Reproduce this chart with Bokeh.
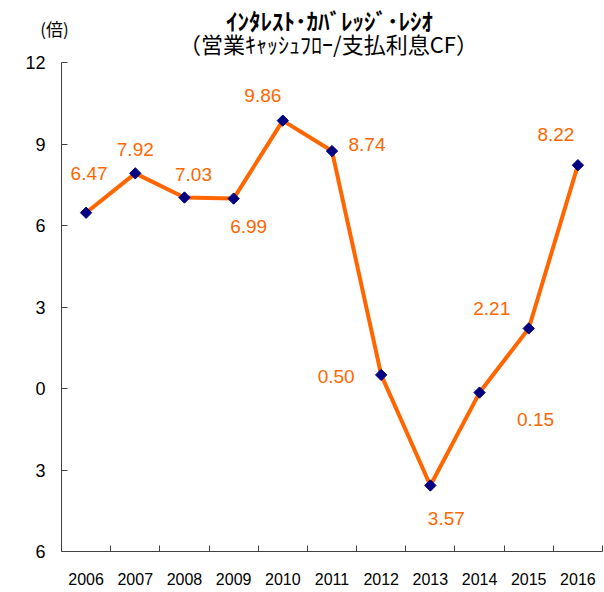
from math import pi
from bokeh.plotting import figure
from bokeh.models import Range1d, FixedTicker, ColumnDataSource
from bokeh.core.properties import value
from bokeh.embed import file_html
from bokeh.resources import INLINE

# ---- data ----
years = ["2006", "2007", "2008", "2009", "2010", "2011", "2012", "2013", "2014", "2015", "2016"]
ratio = [6.47, 7.92, 7.03, 6.99, 9.86, 8.74, 0.50, -3.57, -0.15, 2.21, 8.22]
y_ticks = [-6, -3, 0, 3, 6, 9, 12]
y_min, y_max = -6, 12
title_line1 = "ｲﾝﾀﾚｽﾄ･ｶﾊﾞﾚｯｼﾞ･ﾚｼｵ"
title_line2 = "（営業ｷｬｯｼｭﾌﾛｰ/支払利息CF）"
unit_label = "(倍)"

# ---- label placement (screen px) ----
label_dx = [3, 0, 9, 15, -20, 35, -45, 16, 56, -37, -22]
label_dy = [-39, -24, -23, 28, -25, -7, 2, 33, 27, -20, -31]

# ---- layout (canvas px) ----
W, H = 604, 592
AX_L, AX_R, AX_T, AX_B = 61, 602, 62, 551
n = len(years)
ux = (AX_R - AX_L) / n
uy = (AX_B - AX_T) / (y_max - y_min)
x0 = -0.5 - AX_L / ux
x1 = n - 0.5 + (W - AX_R) / ux
y1 = y_max + AX_T / uy
y0 = y_min - (H - AX_B) / uy
def px2x(px): return x0 + px / ux
def py2y(py): return y1 - py / uy

xs = list(range(n))
src = ColumnDataSource(dict(
    x=xs, y=ratio,
    txt=[f"{abs(v):.2f}" for v in ratio],
    dx=label_dx, dy=label_dy,
))

p = figure(width=W, height=H, output_backend="svg", toolbar_location=None,
           x_range=Range1d(x0, x1), y_range=Range1d(y0, y1),
           min_border_left=0, min_border_top=0, min_border_right=0, min_border_bottom=0)
p.outline_line_color = None
p.xgrid.visible = False
p.ygrid.visible = False
p.background_fill_color = "white"
p.border_fill_color = "white"

FONT = "Liberation Sans"
AX = "#404040"

# x axis: labels at centers, ticks at category boundaries
xa = p.xaxis[0]
xa.fixed_location = y_min
xa.bounds = (-0.5, n - 0.5)
xa.ticker = FixedTicker(ticks=xs, minor_ticks=[i + 0.5 for i in xs])
xa.major_label_overrides = {i: y for i, y in zip(xs, years)}
xa.major_tick_in = 0
xa.major_tick_out = 0
xa.minor_tick_in = 6
xa.minor_tick_out = 0
xa.minor_tick_line_color = AX
xa.axis_line_color = AX
xa.major_label_text_font = FONT
xa.major_label_text_font_size = "16px"
xa.major_label_text_color = "black"
xa.major_label_standoff = 21

ya = p.yaxis[0]
ya.fixed_location = -0.5
ya.bounds = (y_min, y_max)
ya.ticker = FixedTicker(ticks=y_ticks, minor_ticks=[])
ya.major_label_overrides = {t: str(abs(t)) for t in y_ticks}
ya.major_tick_in = 6
ya.major_tick_out = 0
ya.minor_tick_in = 0
ya.minor_tick_out = 0
ya.major_tick_line_color = AX
ya.axis_line_color = AX
ya.major_label_text_font = FONT
ya.major_label_text_font_size = "18px"
ya.major_label_text_color = "black"
ya.major_label_standoff = 16

p.line("x", "y", source=src, line_color="#FF6600", line_width=4)
p.scatter("x", "y", source=src, marker="square", angle=pi / 4, size=8,
          fill_color="#000080", line_color="#000080", line_width=1)
p.text("x", "y", text="txt", source=src, x_offset="dx", y_offset="dy",
       text_align="center", text_baseline="middle", text_color="#FF6600",
       text_font_size="19px", text_font=value(FONT))

CJK = value("Noto Sans CJK JP")
p.text(x=[px2x(329)], y=[py2y(19)], text=[title_line1], text_align="center",
       text_baseline="middle", text_font=CJK, text_font_style="bold",
       text_font_size="23px", text_color="black")
p.text(x=[px2x(328)], y=[py2y(42)], text=[title_line2], text_align="center",
       text_baseline="middle", text_font=CJK, text_font_size="22px", text_color="black")
p.text(x=[px2x(54)], y=[py2y(28)], text=[unit_label], text_align="center",
       text_baseline="middle", text_font=CJK, text_font_size="17px", text_color="black")

open("out.html", "w").write(file_html(p, INLINE))
